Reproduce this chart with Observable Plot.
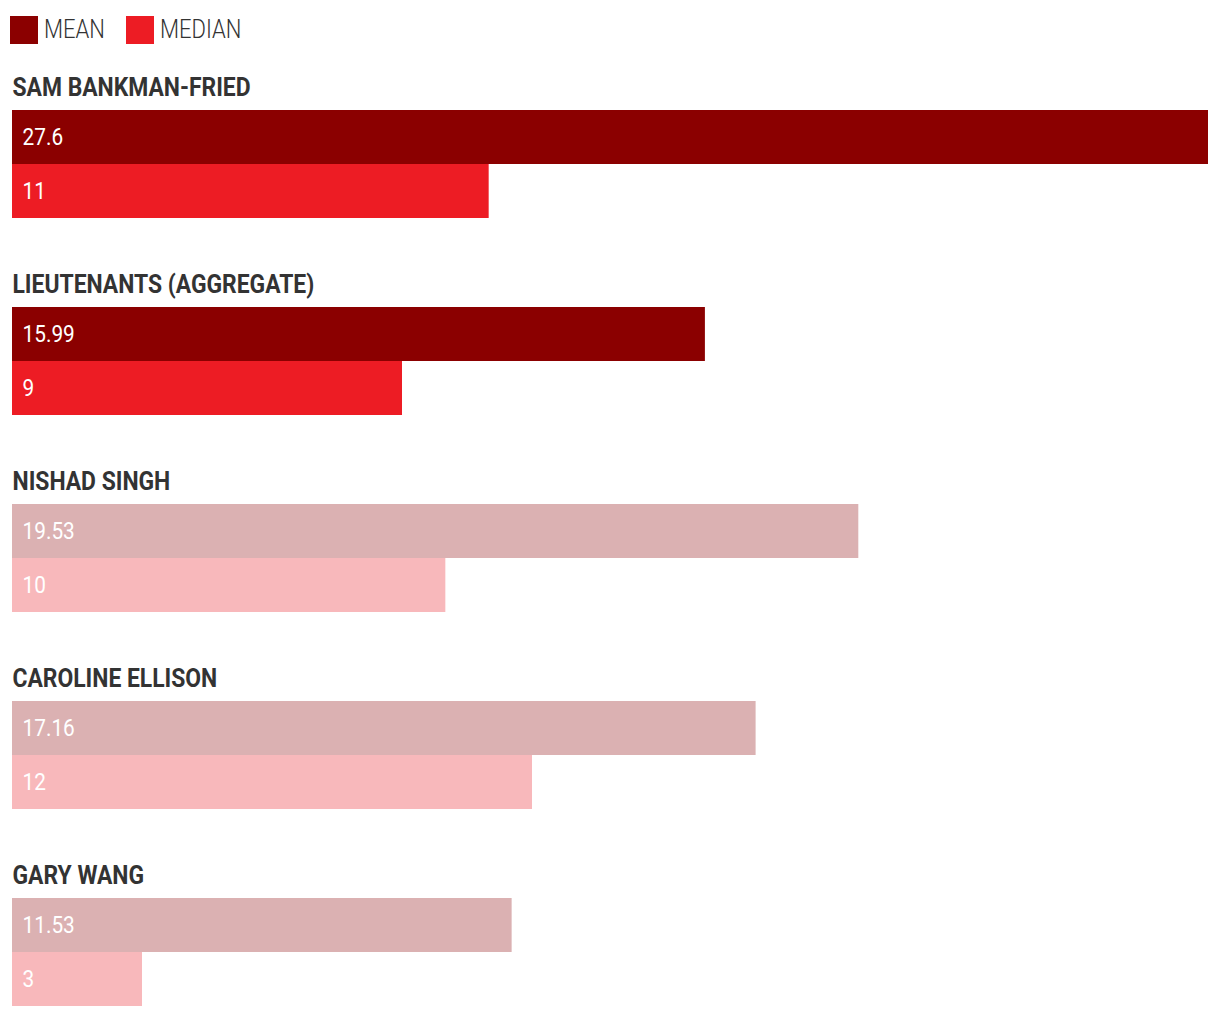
<!DOCTYPE html>
<html>
<head>
<meta charset="utf-8">
<script src="https://cdn.jsdelivr.net/npm/d3@7"></script>
<script src="https://cdn.jsdelivr.net/npm/@observablehq/plot@0.6"></script>
<style>
  body { margin: 0; background: #fff; }
  #legend { height: 50px; position: relative; font-family: Roboto, sans-serif; font-weight: 300; font-size: 25px; color: #333; }
  .sw { position: absolute; top: 16px; width: 28px; height: 28px; }
  .lab { position: absolute; top: 15px; line-height: 30px; transform: scaleX(0.88); transform-origin: left center; white-space: nowrap; }
</style>
</head>
<body>
<div id="legend"></div>
<div id="chart"></div>
<script>
const persons = ["SAM BANKMAN-FRIED", "LIEUTENANTS (AGGREGATE)", "NISHAD SINGH", "CAROLINE ELLISON", "GARY WANG"];
const means = [27.6, 15.99, 19.53, 17.16, 11.53];
const medians = [11, 9, 10, 12, 3];
const highlighted = [true, true, false, false, false];
const seriesNames = ["MEAN", "MEDIAN"];
const colors = {mean: "#8b0000", median: "#ed1c24", meanFaded: "#dbb1b2", medianFaded: "#f8b8bb"};

const rows = persons.map((p, i) => ({person: p, mean: means[i], median: medians[i], hi: highlighted[i]}));

// legend
const legend = document.getElementById("legend");
const legendItems = [[seriesNames[0], colors.mean, 10], [seriesNames[1], colors.median, 126]];
for (const [name, color, left] of legendItems) {
  const sw = document.createElement("div");
  sw.className = "sw"; sw.style.left = left + "px"; sw.style.background = color;
  const t = document.createElement("div");
  t.className = "lab"; t.style.left = (left + 34) + "px"; t.textContent = name;
  legend.appendChild(sw); legend.appendChild(t);
}

const band = 197;
const font = "Roboto, sans-serif";
const chart = Plot.plot({
  width: 1220,
  height: 968,
  margin: 0,
  style: {fontFamily: font, background: "white"},
  x: {domain: [0, 27.6], range: [12, 1208], axis: null},
  y: {domain: persons, range: [60, 60 + persons.length * band], padding: 0, round: true, axis: null},
  marks: [
    Plot.barX(rows, {x: "mean", y: "person", fill: d => d.hi ? colors.mean : colors.meanFaded, insetTop: 0, insetBottom: band - 54}),
    Plot.barX(rows, {x: "median", y: "person", fill: d => d.hi ? colors.median : colors.medianFaded, insetTop: 54, insetBottom: band - 108}),
    Plot.text(rows, {x: 0, y: "person", text: "person", textAnchor: "start", dy: -23 - band / 2, fontSize: 26, fontWeight: "bold", fill: "#333"}),
    Plot.text(rows, {x: 0, y: "person", text: d => String(d.mean), textAnchor: "start", dx: 10, dy: 27 - band / 2, fontSize: 24.5, fontWeight: 400, fill: "white"}),
    Plot.text(rows, {x: 0, y: "person", text: d => String(d.median), textAnchor: "start", dx: 10, dy: 81 - band / 2, fontSize: 24.5, fontWeight: 400, fill: "white"})
  ]
});

// horizontally condense text glyphs (narrow typeface look), keeping the anchor point
const squeeze = [0.88, 0.85, 0.85];
d3.select(chart).selectAll("g[aria-label='text']").each(function(_, gi) {
  const s = squeeze[gi] ?? 1;
  d3.select(this).selectAll("text").each(function() {
    const tr = this.getAttribute("transform");
    if (tr) {
      this.setAttribute("transform", tr + ` scale(${s},1)`);
    } else {
      const x = +(this.getAttribute("x") || 0), y = +(this.getAttribute("y") || 0);
      this.removeAttribute("x"); this.removeAttribute("y");
      this.setAttribute("transform", `translate(${x},${y}) scale(${s},1)`);
    }
  });
});
document.getElementById("chart").appendChild(chart);
</script>
</body>
</html>
